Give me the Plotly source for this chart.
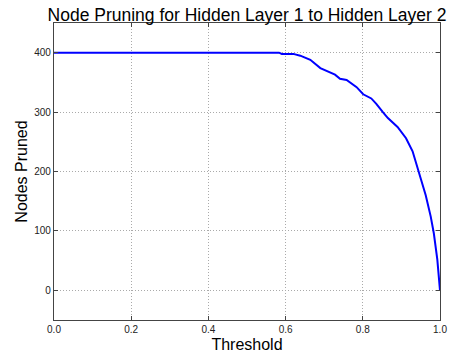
import plotly.graph_objects as go

threshold = [0.0, 0.583, 0.59, 0.62, 0.638, 0.664, 0.69, 0.707, 0.728, 0.741, 0.758,
             0.784, 0.801, 0.822, 0.835, 0.852, 0.865, 0.89, 0.912, 0.929, 0.942,
             0.954, 0.963, 0.976, 0.984, 0.993, 0.999, 1.0]
nodes_pruned = [400, 400, 398, 398, 395, 388, 374, 369, 363, 356, 354,
                342, 330, 323, 314, 300, 290, 275, 256, 234, 206,
                179, 160, 124, 96, 52, 11, 0]

x_ticks = [0.0, 0.2, 0.4, 0.6, 0.8, 1.0]
x_tick_labels = ["0.0", "0.2", "0.4", "0.6", "0.8", "1.0"]
y_ticks = [0, 100, 200, 300, 400]

font = "Liberation Sans, Arial, sans-serif"

fig = go.Figure()
fig.add_trace(go.Scatter(x=threshold, y=nodes_pruned, mode="lines",
                         line=dict(color="#0000ff", width=2), showlegend=False))

axis_common = dict(
    showline=True, linecolor="#444444", linewidth=1.3, mirror="ticks",
    ticks="inside", ticklen=4, tickcolor="#444444",
    showgrid=True, gridcolor="#aaaaaa", griddash="1px,2px", gridwidth=1,
    zeroline=False, tickfont=dict(family=font, size=10, color="#222222"),
)

fig.update_xaxes(range=[0, 1], tickmode="array", tickvals=x_ticks, ticktext=x_tick_labels,
                 title=dict(text="Threshold", font=dict(family=font, size=16, color="black"), standoff=4),
                 **axis_common)
fig.update_yaxes(range=[-50, 450], tickmode="array", tickvals=y_ticks,
                 title=dict(text="Nodes Pruned", font=dict(family=font, size=16, color="black"), standoff=2),
                 **axis_common)

fig.update_layout(
    width=459, height=362,
    margin=dict(l=54, r=15, t=23, b=36),
    paper_bgcolor="white", plot_bgcolor="white",
    title=dict(text="Node Pruning for Hidden Layer 1 to Hidden Layer 2",
               font=dict(family=font, size=17.5, color="black"),
               x=0.5, xref="paper", xanchor="center",
               y=1, yref="paper", yanchor="bottom", pad=dict(b=2)),
)

fig.write_html("out.html")
